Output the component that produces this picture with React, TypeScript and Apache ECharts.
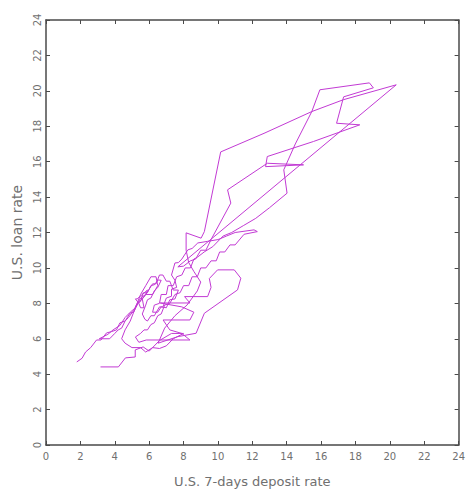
import React, { useEffect, useRef } from "react";
import * as echarts from "echarts";

// [7-day deposit rate, loan rate] pairs, in time order, split by stretch
const earlyRise: [number, number][] = [
  [1.79, 4.69], [2.1, 4.9], [2.3, 5.25], [2.6, 5.5], [2.94, 5.93], [3.2, 5.93], [3.52, 6.33], [3.8, 6.4],
  [4.1, 6.5], [4.3, 6.9], [4.6, 7.0], [4.9, 7.46], [5.1, 7.5], [5.35, 8.0], [5.5, 8.1], [5.65, 8.59],
  [5.9, 8.6], [6.1, 9.0], [6.3, 9.05], [6.52, 9.32], [6.7, 9.3], [6.5, 8.9], [6.3, 8.7], [6.1, 8.3],
  [5.9, 8.2], [5.8, 7.9], [5.6, 7.4], [5.75, 7.1], [5.9, 7.0], [6.1, 7.3], [6.3, 7.3], [6.6, 7.8],
  [6.8, 7.8], [7.0, 8.3], [7.3, 8.4], [7.3, 8.8], [7.6, 8.9], [7.5, 9.3], [7.3, 9.6], [7.5, 10.28],
  [7.7, 10.3], [7.9, 10.5], [8.25, 11.02], [8.5, 11.1], [8.83, 11.41], [9.4, 11.5], [10.0, 11.6], [10.5, 11.8],
  [11.0, 12.0], [12.1, 12.15], [12.29, 12.05], [11.52, 11.9], [11.0, 11.3], [10.7, 11.3], [10.4, 10.9], [10.1, 10.9],
  [9.9, 10.4], [9.6, 10.4], [9.3, 10.0], [9.0, 10.0], [8.8, 9.5], [8.5, 9.5], [8.3, 9.0], [8.0, 9.0],
  [7.8, 8.6], [7.5, 8.5], [7.2, 8.0], [6.9, 7.9], [6.7, 7.4], [6.5, 7.3], [6.3, 6.9], [6.1, 6.8],
  [5.9, 6.5], [5.7, 6.5], [5.5, 6.3], [5.2, 6.1], [5.4, 5.8], [5.83, 5.93],
];

const midSeventies: [number, number][] = [
  [8.37, 5.93], [7.9, 6.3], [7.2, 6.5], [6.81, 7.06], [8.37, 7.06], [8.6, 7.5], [7.9, 7.8], [6.64, 8.02],
  [8.37, 8.02], [8.06, 8.38], [9.4, 8.38], [9.6, 8.9], [9.5, 9.4], [9.98, 9.89], [10.95, 9.89], [11.33, 9.42],
  [11.14, 8.76], [9.21, 7.44], [8.73, 6.31], [7.67, 6.12], [6.52, 5.75], [6.9, 6.6], [7.5, 7.3], [8.2, 7.9],
  [8.8, 8.7], [9.0, 9.2], [8.6, 9.8], [8.3, 10.3], [8.15, 11.0], [8.15, 11.98], [9.02, 11.68], [9.21, 12.05],
];

const peakYears: [number, number][] = [
  [10.16, 16.55], [12.68, 17.6], [15.46, 18.83], [17.3, 19.5], [20.37, 20.34], [7.67, 10.06], [8.0, 10.1], [8.4, 10.4],
  [8.7, 10.5], [9.0, 11.0], [9.3, 11.0], [9.6, 11.6], [10.75, 13.66], [10.56, 14.41], [12.87, 15.91], [14.98, 15.82],
  [12.77, 15.72], [12.87, 16.29], [15.56, 17.14], [18.25, 18.08], [16.9, 18.17], [17.31, 19.66], [19.04, 20.17], [18.81, 20.45],
  [15.93, 20.06], [15.46, 18.83], [14.5, 17.0], [13.83, 15.54], [14.02, 14.22], [13.0, 13.4], [12.2, 12.8], [11.5, 12.4],
  [10.8, 12.0], [10.3, 11.8], [9.7, 11.2], [9.2, 10.9], [8.8, 10.6],
];

const slowDescent: [number, number][] = [
  [8.6, 10.5], [8.4, 10.0], [8.1, 10.0], [7.9, 9.6], [7.6, 9.5], [7.4, 9.0], [7.1, 9.0], [7.0, 8.5],
  [6.7, 8.5], [6.6, 8.0], [6.3, 7.9], [6.2, 7.5], [6.5, 7.5], [6.7, 7.8], [7.0, 7.75], [7.2, 8.2],
  [7.5, 8.25], [7.7, 8.75], [7.4, 8.75], [7.2, 9.25], [7.0, 9.25], [6.8, 9.6], [6.6, 9.6], [6.4, 9.1],
  [6.2, 9.1], [6.0, 8.8], [5.8, 8.5], [5.6, 8.25], [5.3, 8.0], [5.1, 7.6], [4.8, 7.2], [4.6, 7.0],
  [4.4, 6.6], [4.2, 6.5], [4.0, 6.3], [3.7, 6.0], [3.3, 6.0], [3.1, 6.0], [3.3, 6.1], [3.6, 6.25],
  [3.9, 6.5], [4.3, 6.75], [4.6, 7.2], [4.9, 7.5], [5.2, 7.75], [5.5, 8.3], [5.8, 8.5], [5.9, 8.75],
  [5.6, 8.5], [5.3, 8.25], [5.2, 8.25], [5.4, 8.0], [5.5, 7.75], [5.7, 7.75], [5.6, 8.25], [5.8, 8.5],
  [6.2, 8.5], [6.5, 9.0], [6.4, 9.5], [6.1, 9.5], [5.8, 9.0], [5.5, 8.5], [5.2, 7.75], [4.9, 7.0],
  [4.6, 6.5], [4.4, 6.0],
];

const lateLows: [number, number][] = [
  [4.6, 5.75], [5.0, 5.5], [5.5, 5.5], [5.8, 5.25], [6.2, 5.5], [6.6, 5.45], [7.0, 5.6], [7.4, 6.0],
  [8.0, 6.3], [7.3, 6.3], [6.6, 5.9], [6.0, 5.3], [5.65, 5.54], [5.19, 5.37], [5.19, 4.97], [4.62, 4.92],
  [4.21, 4.41], [3.17, 4.41],
];

const axisMin = 0;
const axisMax = 24;
const axisStep = 2;

const frameColor = "#4a4a4a";
const textColor = "#707070";
const fontFamily = "DejaVu Sans, sans-serif";

export default function App() {
  const ref = useRef<HTMLDivElement>(null);

  useEffect(() => {
    if (!ref.current) return;
    const chart = echarts.init(ref.current, undefined, { renderer: "svg" });

    const points = [...earlyRise, ...midSeventies, ...peakYears, ...slowDescent, ...lateLows];

    const frameLine = { show: true, onZero: false, lineStyle: { color: frameColor, width: 1.5 } };
    const frameTick = { show: true, inside: true, length: 4, lineStyle: { color: frameColor, width: 1 } };

    chart.setOption({
      animation: false,
      backgroundColor: "#fff",
      grid: { left: 46, right: 5, top: 20, bottom: 51, containLabel: false },
      xAxis: [
        {
          type: "value",
          position: "bottom",
          min: axisMin,
          max: axisMax,
          interval: axisStep,
          axisLine: frameLine,
          axisTick: frameTick,
          splitLine: { show: false },
          axisLabel: { color: textColor, fontSize: 10, margin: 6, fontFamily },
          name: "U.S. 7-days deposit rate",
          nameLocation: "middle",
          nameGap: 30,
          nameTextStyle: { color: textColor, fontSize: 13, fontFamily },
        },
        {
          type: "value",
          position: "top",
          min: axisMin,
          max: axisMax,
          interval: axisStep,
          axisLine: frameLine,
          axisTick: frameTick,
          splitLine: { show: false },
          axisLabel: { show: false },
        },
      ],
      yAxis: [
        {
          type: "value",
          position: "left",
          min: axisMin,
          max: axisMax,
          interval: axisStep,
          axisLine: frameLine,
          axisTick: frameTick,
          splitLine: { show: false },
          axisLabel: { color: textColor, fontSize: 10, margin: 4, rotate: 90, fontFamily },
          name: "U.S. loan rate",
          nameLocation: "middle",
          nameGap: 22,
          nameRotate: 90,
          nameTextStyle: { color: textColor, fontSize: 14, fontFamily },
        },
        {
          type: "value",
          position: "right",
          min: axisMin,
          max: axisMax,
          interval: axisStep,
          axisLine: frameLine,
          axisTick: frameTick,
          splitLine: { show: false },
          axisLabel: { show: false },
        },
      ],
      series: [
        {
          type: "line",
          xAxisIndex: 0,
          yAxisIndex: 0,
          data: points,
          showSymbol: false,
          symbol: "none",
          lineStyle: { color: "#c23ad4", width: 1 },
        },
      ],
    });

    return () => chart.dispose();
  }, []);

  return (
    <div
      ref={ref}
      style={{ position: "fixed", left: 0, top: 0, width: 468, height: 496 }}
    />
  );
}
